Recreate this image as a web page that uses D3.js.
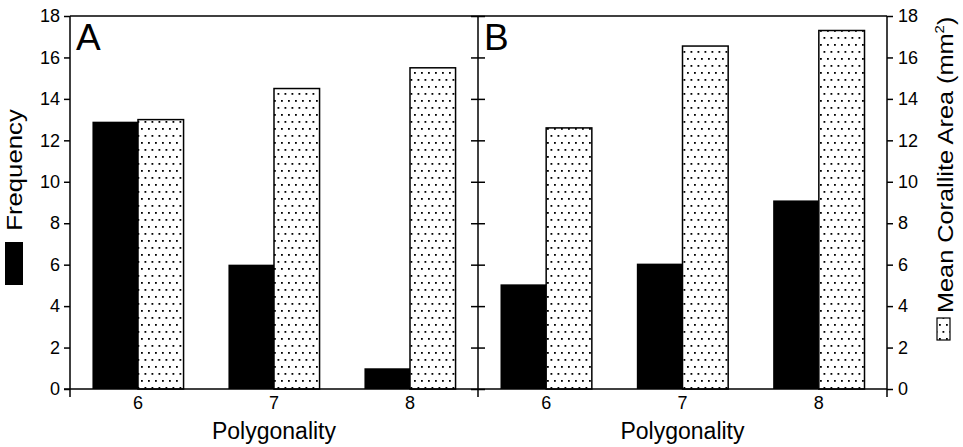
<!DOCTYPE html>
<html>
<head>
<meta charset="utf-8">
<script src="https://cdn.jsdelivr.net/npm/d3@7"></script>
<style>
  body { margin: 0; background: #fff; }
  svg { font-family: "Liberation Sans", Arial, sans-serif; }
</style>
</head>
<body>
<svg id="drawing_region"></svg>
<script>
// values
const categories = ['6', '7', '8'];
const panelNames = ['A', 'B'];
const freqA = [12.9, 6, 1];
const areaA = [13.0, 14.5, 15.5];
const freqB = [5.05, 6.05, 9.1];
const areaB = [12.6, 16.55, 17.3];
const yTicks = [0, 2, 4, 6, 8, 10, 12, 14, 16, 18];
const xTitle = 'Polygonality';
const leftTitle = 'Frequency';
const rightTitle = 'Mean Corallite Area (mm';

const width = 963, height = 447;
const plotTop = 16, plotBottom = 389;
const xLeft = 70, xMid = 478, xRight = 887;

const svg = d3.select('#drawing_region')
    .attr('width', width)
    .attr('height', height);

// dotted fill, staggered rows
const pat = svg.append('defs').append('pattern')
    .attr('id', 'dots')
    .attr('patternUnits', 'userSpaceOnUse')
    .attr('width', 7)
    .attr('height', 14);
pat.append('rect').attr('width', 7).attr('height', 14).attr('fill', '#fff');
pat.append('rect').attr('x', 1).attr('y', 2).attr('width', 1.8).attr('height', 1.8).attr('fill', '#000');
pat.append('rect').attr('x', 4.5).attr('y', 9).attr('width', 1.8).attr('height', 1.8).attr('fill', '#000');

const y = d3.scaleLinear().domain([0, 18]).range([plotBottom, plotTop]);

const panels = [
    { name: panelNames[0], x0: xLeft, x1: xMid, freq: freqA, area: areaA },
    { name: panelNames[1], x0: xMid, x1: xRight, freq: freqB, area: areaB },
];

panels.forEach(p => {
    const x = d3.scaleBand()
        .domain(categories)
        .range([p.x0, p.x1])
        .paddingInner(0.33)
        .paddingOuter(0.165);
    const sub = d3.scaleBand()
        .domain(['freq', 'area'])
        .range([0, x.bandwidth()]);

    const rows = categories.map((c, i) => ({ c: c, freq: p.freq[i], area: p.area[i] }));

    const g = svg.append('g');
    g.selectAll('.fbar')
        .data(rows)
        .enter()
        .append('rect')
        .attr('x', d => x(d.c) + sub('freq'))
        .attr('y', d => y(d.freq))
        .attr('width', sub.bandwidth())
        .attr('height', d => y(0) - y(d.freq))
        .attr('fill', '#000');
    g.selectAll('.abar')
        .data(rows)
        .enter()
        .append('rect')
        .attr('x', d => x(d.c) + sub('area'))
        .attr('y', d => y(d.area))
        .attr('width', sub.bandwidth())
        .attr('height', d => y(0) - y(d.area))
        .attr('fill', 'url(#dots)')
        .attr('stroke', '#000')
        .attr('stroke-width', 1.5);

    const xaxis = svg.append('g')
        .attr('transform', `translate(0, ${plotBottom})`)
        .call(d3.axisBottom(x).tickSize(0).tickPadding(7))
        .attr('font-family', null)
        .attr('font-size', 18);
    xaxis.select('.domain').remove();

    svg.append('text')
        .attr('x', (p.x0 + p.x1) / 2)
        .attr('y', 439)
        .attr('text-anchor', 'middle')
        .attr('font-size', 23)
        .text(xTitle);

    svg.append('text')
        .attr('x', p.x0 + 6)
        .attr('y', 50)
        .attr('font-size', 37)
        .text(p.name);
});

// frame lines
const frame = svg.append('g').attr('stroke', '#000').attr('stroke-width', 1.5);
frame.append('line').attr('x1', xLeft).attr('x2', xRight).attr('y1', plotTop).attr('y2', plotTop);
frame.append('line').attr('x1', xLeft - 6).attr('x2', xRight).attr('y1', plotBottom).attr('y2', plotBottom);
[xLeft, xMid, xRight].forEach(xx => {
    frame.append('line').attr('x1', xx).attr('x2', xx).attr('y1', plotTop).attr('y2', plotBottom + 8);
});

// left axis
const la = svg.append('g')
    .attr('transform', `translate(${xLeft}, 0)`)
    .call(d3.axisLeft(y).tickValues(yTicks).tickSize(6).tickPadding(4))
    .attr('font-family', null)
    .attr('font-size', 18);
la.select('.domain').remove();
la.selectAll('line').attr('stroke-width', 1.5);

// middle ticks crossing the divider
const ma = svg.append('g')
    .attr('transform', `translate(${xMid - 7}, 0)`)
    .call(d3.axisRight(y).tickValues(yTicks).tickSize(14).tickFormat(''));
ma.select('.domain').remove();
ma.selectAll('line').attr('stroke-width', 1.5);

// right axis
const ra = svg.append('g')
    .attr('transform', `translate(${xRight}, 0)`)
    .call(d3.axisRight(y).tickValues(yTicks).tickSize(6).tickPadding(5))
    .attr('font-family', null)
    .attr('font-size', 18);
ra.select('.domain').remove();
ra.selectAll('line').attr('stroke-width', 1.5);

// left legend
svg.append('rect')
    .attr('x', 5).attr('y', 242).attr('width', 18).attr('height', 43)
    .attr('fill', '#000');
svg.append('text')
    .attr('transform', 'translate(22, 170) rotate(-90) scale(1.17, 1)')
    .attr('text-anchor', 'middle')
    .attr('font-size', 22)
    .text(leftTitle);

// right legend
svg.append('rect')
    .attr('x', 937).attr('y', 318).attr('width', 13).attr('height', 22)
    .attr('fill', 'url(#dots)')
    .attr('stroke', '#000')
    .attr('stroke-width', 1.2);
const rt = svg.append('text')
    .attr('transform', 'translate(953, 313) rotate(-90) scale(1.15, 1)')
    .attr('font-size', 22)
    .text(rightTitle);
rt.append('tspan').attr('font-size', 13).attr('dy', -9).text('2');
rt.append('tspan').attr('dy', 9).text(')');
</script>
</body>
</html>
